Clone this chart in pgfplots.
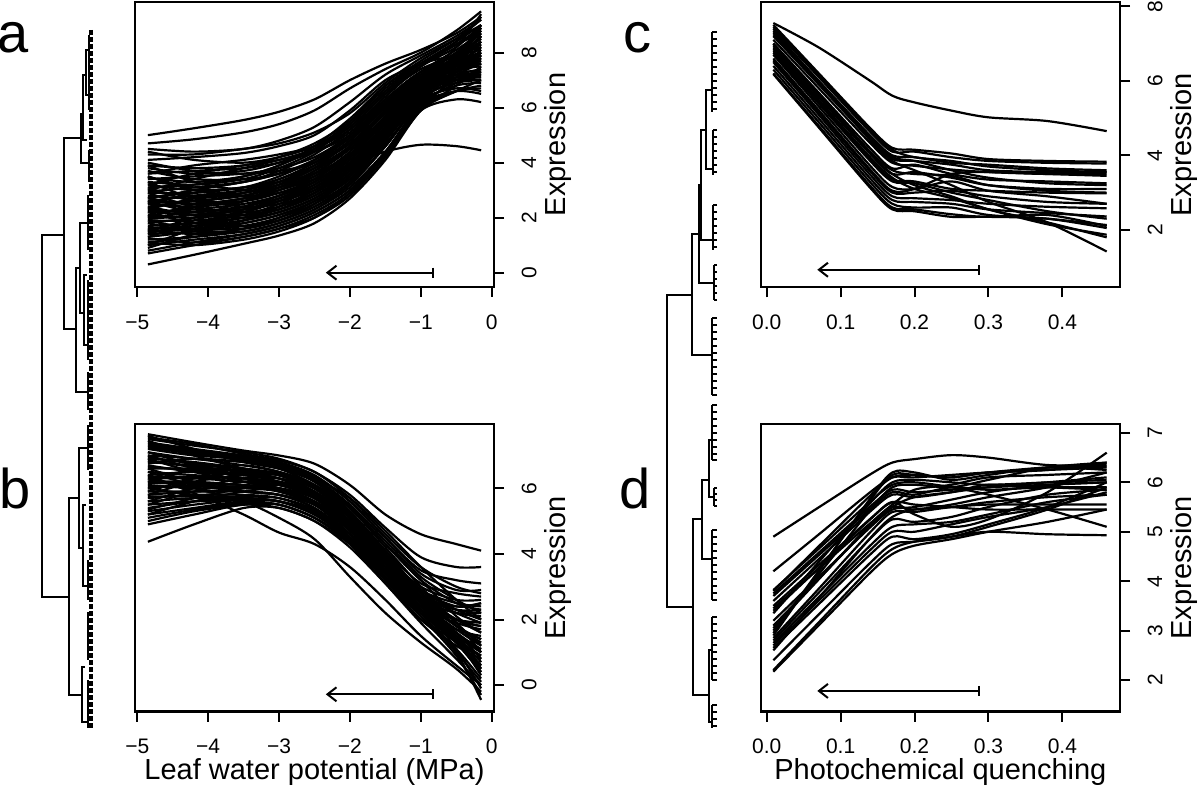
\documentclass[border=0pt]{standalone}
\usepackage{fontspec}
\setmainfont{Liberation Sans}
\usepackage{pgfplots}
\pgfplotsset{compat=1.18}
\usetikzlibrary{arrows.meta}

\newcommand\LA[5]{\def\LAone{(-4.85,#1)(-4.2,#2)(-3.5,#3)(-3.0,#4)(-2.5,#5)}\LAtwo}
\newcommand\LAtwo[5]{\edef\LAtmp{\noexpand\addplot[curve] coordinates{\LAone(-2.0,#1)(-1.5,#2)(-1.0,#3)(-0.5,#4)(-0.15,#5)};}\LAtmp}
\newcommand\LC[9]{\addplot[curve] coordinates{(0.009,#1)(0.07,#2)(0.14,#3)(0.17,#4)(0.2,#5)(0.25,#6)(0.3,#7)(0.38,#8)(0.46,#9)};}
\newcommand\mg[5]{\addplot[dend] coordinates {(#1,#2)(#3,#2)(#3,#5)(#4,#5)};}
\newcommand\comb[5]{\addplot[dend] coordinates {(#1,#3)(#1,#4)};\pgfplotsinvokeforeach{#5}{\addplot[dend] coordinates {(#2,##1)(#1,##1)};}}

\pgfplotsset{
 curve/.style={black, solid, line width=1.1pt, smooth, no markers},
 dend/.style={black, solid, line width=1pt, sharp plot, no markers},
 arr/.style={black, solid, line width=1pt, sharp plot, no markers, {Bar[width=5pt]}-{Straight Barb[length=4.5pt,width=7pt]}},
 panel/.style={scale only axis, anchor=south west, width=179.5pt,
   axis line style={line width=1.2pt},
   every tick/.style={black, line width=1pt},
   tick align=outside, major tick length=5pt,
   xtick pos=bottom, ytick pos=right, yticklabel pos=right,
   tick label style={font=\fontsize{10.5}{12}\selectfont, inner sep=0pt},
   yticklabel style={rotate=90, anchor=north},
   xticklabel style={anchor=north},
   xticklabel shift=8.6pt, yticklabel shift=8.6pt,
   clip=false,
 },
}

\begin{document}
\begin{tikzpicture}
\useasboundingbox (0,0) rectangle (600pt,404pt);
% ---------- overlay: dendrograms, letters, titles ----------
\begin{axis}[at={(0pt,0pt)}, anchor=south west, scale only axis, width=600pt, height=404pt,
  xmin=0, xmax=1200, ymin=0, ymax=808, y dir=reverse, hide axis, clip=false]
% left tree
\mg{64.3}{235}{42}{69}{597}
\mg{80.7}{138}{64.3}{75.7}{329}
\mg{83.3}{114}{80.7}{89.3}{163}
\mg{86}{75}{83.3}{87}{140}
\mg{88.5}{50}{86}{89}{95}
\mg{80}{268}{75.7}{88.3}{392}
\mg{88.3}{223}{80}{84.3}{313}
\mg{86.5}{275}{84.3}{87.5}{345}
\mg{79}{498}{69}{82.3}{695}
\mg{88.3}{448}{79}{83.3}{548}
\mg{86}{505}{83.3}{88}{586}
\mg{85}{667}{82.3}{88}{722}
\addplot[dend] coordinates {(88.5,35)(88.5,110)};
\addplot[dend] coordinates {(89.3,150)(89.3,182)};
\addplot[dend] coordinates {(88.3,195)(88.3,250)};
\addplot[dend] coordinates {(87.5,280)(87.5,360)};
\addplot[dend] coordinates {(88.3,372)(88.3,410)};
\addplot[dend] coordinates {(88.3,425)(88.3,470)};
\addplot[dend] coordinates {(88,560)(88,600)};
\addplot[dend] coordinates {(88,612)(88,660)};
\addplot[dend] coordinates {(88,680)(88,728)};
\addplot[dend, line width=2pt, dash pattern=on 2.5pt off 1pt] coordinates {(90.8,30)(90.8,728)};
% right tree
\mg{691.7}{295}{667.3}{693.3}{607}
\mg{699.3}{234}{691.7}{711.7}{355}
\mg{701.3}{185}{699.3}{714.3}{283}
\mg{705.7}{130}{701.3}{713.3}{240}
\mg{711.7}{90}{705.7}{713.3}{169}
\comb{711.7}{717}{32}{112}{32,39,46,53,60,67,74,81,88,95,102,109}
\comb{713.3}{717}{130}{175}{130,137,144,151,158,165,172}
\comb{713.3}{717}{205}{250}{205,212,219,226,233,240,247}
\comb{714.3}{717}{265}{300}{265,272,279,286,293,300}
\comb{711.7}{717}{318}{395}{318,325,332,339,346,353,360,367,374,381,388,395}
\mg{702.3}{519}{693.3}{709.3}{695}
\mg{709.3}{480}{702.3}{711.7}{559}
\mg{712}{440}{709.3}{714}{497}
\comb{712}{717}{405}{460}{405,412,419,426,433,440,447,454,460}
\comb{714}{717}{488}{506}{488,494,500,506}
\comb{711.7}{717}{530}{600}{530,537,544,551,558,565,572,579,586,593,600}
\mg{712}{650}{709.3}{712}{722}
\comb{712}{717}{617}{680}{617,624,631,638,645,652,659,666,673,680}
\comb{712}{717}{705}{728}{705,712,719,726}
% letters and titles
\node[font=\fontsize{28}{32}\selectfont, inner sep=0pt] at (axis cs:13,38) {a};
\node[font=\fontsize{28}{32}\selectfont, inner sep=0pt] at (axis cs:15,488) {b};
\node[font=\fontsize{28}{32}\selectfont, inner sep=0pt] at (axis cs:637,38) {c};
\node[font=\fontsize{28}{32}\selectfont, inner sep=0pt] at (axis cs:635,488) {d};
\node[font=\fontsize{14.5}{17}\selectfont, inner sep=0pt] at (axis cs:314.5,772) {Leaf water potential (MPa)};
\node[font=\fontsize{14.5}{17}\selectfont, inner sep=0pt] at (axis cs:940.4,772) {Photochemical quenching};
\end{axis}

% ---------- panel a ----------
\begin{axis}[panel, at={(67.5pt,260.5pt)}, height=142.5pt,
  xmin=-5.032, xmax=0.032, ymin=-0.52, ymax=9.84,
  xtick={-5,-4,-3,-2,-1,0}, xticklabels={−5,−4,−3,−2,−1,0},
  ytick={0,2,4,6,8}, yticklabels={0,2,4,6,8}]
\LA{5.0}{5.25}{5.55}{5.85}{6.3}{7.0}{7.6}{8.1}{8.7}{9.3}
\LA{4.7}{4.85}{5.1}{5.4}{5.9}{6.7}{7.4}{8.0}{8.8}{9.5}
\LA{4.5}{4.4}{4.5}{4.8}{5.3}{6.2}{7.2}{7.9}{8.6}{9.2}
\LA{4.3}{4.3}{4.5}{4.7}{5.1}{5.8}{6.9}{7.8}{8.5}{9.0}
\LA{4.1}{4.2}{4.35}{4.6}{5.0}{5.9}{7.0}{7.6}{7.9}{8.1}
\LA{3.9}{3.8}{3.9}{4.2}{4.7}{5.5}{6.7}{7.6}{8.4}{9.0}
\LA{3.8}{3.6}{3.7}{4.0}{4.5}{5.3}{6.5}{7.4}{7.9}{8.4}
\LA{3.6}{3.7}{3.8}{4.0}{4.4}{5.1}{6.3}{7.3}{7.6}{7.7}
\LA{3.5}{3.1}{3.3}{3.7}{4.3}{5.2}{6.4}{7.5}{8.3}{8.8}
\LA{3.4}{3.5}{3.6}{3.8}{4.2}{5.0}{6.2}{7.1}{7.6}{8.0}
\LA{3.3}{3.2}{3.4}{3.8}{4.4}{5.4}{6.6}{7.5}{8.2}{9.0}
\LA{3.2}{3.0}{3.1}{3.4}{4.0}{4.9}{6.0}{7.0}{7.3}{7.3}
\LA{3.1}{3.2}{3.5}{3.9}{4.6}{5.6}{6.8}{7.6}{8.4}{9.3}
\LA{3.0}{2.8}{2.9}{3.2}{3.8}{4.6}{5.8}{6.9}{7.2}{7.2}
\LA{2.9}{2.9}{3.1}{3.5}{4.1}{5.0}{6.2}{7.3}{8.1}{8.7}
\LA{2.8}{2.7}{2.9}{3.3}{3.9}{4.8}{6.0}{7.0}{7.5}{7.6}
\LA{2.7}{2.5}{2.7}{3.1}{3.7}{4.6}{5.9}{7.1}{8.0}{8.9}
\LA{2.6}{2.8}{3.0}{3.3}{3.8}{4.5}{5.6}{6.6}{7.0}{7.0}
\LA{2.5}{2.4}{2.6}{3.0}{3.6}{4.5}{5.8}{7.0}{7.8}{8.3}
\LA{2.4}{2.6}{2.8}{3.1}{3.5}{4.2}{5.2}{6.2}{6.6}{6.5}
\LA{2.3}{2.2}{2.4}{2.8}{3.4}{4.3}{5.6}{6.9}{7.9}{8.9}
\LA{2.2}{2.3}{2.5}{2.8}{3.3}{4.1}{5.3}{6.5}{7.1}{7.3}
\LA{2.1}{2.0}{2.2}{2.6}{3.2}{4.1}{5.4}{6.8}{7.7}{8.4}
\LA{2.0}{2.2}{2.4}{2.7}{3.1}{3.9}{5.1}{6.4}{6.9}{7.0}
\LA{1.9}{1.9}{2.1}{2.5}{3.1}{4.0}{5.3}{6.7}{7.6}{8.2}
\LA{1.8}{2.0}{2.3}{2.6}{3.0}{3.8}{5.0}{6.3}{6.7}{6.6}
\LA{1.7}{1.8}{2.0}{2.3}{2.9}{3.8}{5.1}{6.6}{7.7}{8.6}
\LA{1.6}{1.7}{1.9}{2.2}{2.7}{3.5}{4.8}{6.3}{7.0}{7.2}
\LA{1.5}{1.6}{1.9}{2.2}{2.7}{3.6}{5.0}{6.6}{7.6}{8.0}
\LA{1.4}{1.5}{1.7}{2.0}{2.5}{3.3}{4.6}{6.2}{6.8}{6.9}
\LA{1.3}{1.5}{1.8}{2.1}{2.6}{3.4}{4.8}{6.5}{7.8}{8.8}
\LA{1.2}{1.3}{1.5}{1.8}{2.3}{3.1}{4.4}{6.0}{6.6}{6.7}
\LA{1.1}{1.3}{1.6}{1.9}{2.4}{3.2}{4.6}{6.3}{7.4}{7.9}
\LA{1.0}{1.2}{1.4}{1.7}{2.2}{3.0}{4.3}{5.9}{6.3}{6.2}
\LA{0.8}{1.1}{1.4}{1.7}{2.2}{3.0}{4.4}{6.2}{7.3}{8.1}
\LA{0.7}{1.0}{1.3}{1.6}{2.0}{2.8}{4.2}{5.9}{6.8}{7.5}
\LA{0.3}{0.65}{1.05}{1.35}{1.8}{2.7}{4.1}{5.9}{6.6}{7.0}
\LA{2.6}{2.5}{2.7}{3.0}{3.4}{3.9}{4.4}{4.65}{4.6}{4.45}
\LA{3.45}{3.3}{3.5}{3.9}{4.5}{5.5}{6.8}{7.7}{8.5}{9.2}
\LA{2.95}{3.1}{3.3}{3.6}{4.0}{4.7}{5.8}{6.8}{7.2}{7.4}
\LA{2.55}{2.6}{2.8}{3.2}{3.8}{4.8}{6.1}{7.2}{8.0}{8.5}
\LA{2.25}{2.1}{2.3}{2.7}{3.3}{4.2}{5.5}{6.8}{7.4}{7.8}
\LA{1.95}{2.1}{2.3}{2.6}{3.1}{3.9}{5.2}{6.7}{7.8}{9.0}
\LA{1.65}{1.6}{1.8}{2.1}{2.6}{3.4}{4.7}{6.1}{6.6}{6.8}
\LA{1.45}{1.7}{2.0}{2.4}{2.9}{3.7}{5.0}{6.4}{7.2}{7.6}
\LA{1.25}{1.1}{1.3}{1.6}{2.1}{2.9}{4.3}{6.0}{7.1}{7.8}
\LA{3.7}{3.4}{3.4}{3.6}{4.1}{5.0}{6.2}{7.2}{7.8}{8.3}
\LA{4.0}{3.7}{3.6}{3.7}{4.0}{4.8}{6.0}{7.1}{7.4}{7.5}
\LA{2.05}{2.4}{2.7}{3.0}{3.5}{4.4}{5.7}{7.0}{8.2}{9.4}
\LA{2.75}{2.3}{2.3}{2.6}{3.1}{4.0}{5.2}{6.6}{7.3}{7.6}
\LA{3.9}{3.3}{3.0}{3.1}{3.6}{4.6}{5.9}{7.0}{7.6}{7.9}
\LA{1.0}{1.6}{2.2}{2.7}{3.2}{4.0}{5.2}{6.6}{7.5}{8.0}
\LA{3.3}{2.7}{2.4}{2.5}{2.9}{3.8}{5.2}{6.7}{7.7}{8.6}
\LA{1.5}{2.0}{2.6}{3.1}{3.7}{4.6}{5.9}{7.1}{7.7}{8.0}
\LA{2.2}{1.8}{1.7}{1.9}{2.4}{3.3}{4.8}{6.5}{7.5}{8.2}
\LA{0.9}{1.4}{1.9}{2.4}{3.0}{3.9}{5.3}{6.8}{7.9}{8.7}
\LA{3.0}{3.4}{3.8}{4.1}{4.5}{5.2}{6.3}{7.3}{7.9}{8.2}
\LA{2.4}{2.1}{2.0}{2.2}{2.7}{3.6}{5.0}{6.6}{7.3}{7.7}
\LA{1.8}{1.5}{1.5}{1.8}{2.3}{3.2}{4.6}{6.3}{7.0}{7.4}
\LA{3.6}{3.9}{4.1}{4.3}{4.6}{5.3}{6.5}{7.5}{8.3}{8.9}
\LA{2.7}{3.0}{3.3}{3.6}{4.1}{4.9}{6.1}{7.2}{7.7}{7.9}
\LA{1.3}{1.8}{2.1}{2.3}{2.8}{3.6}{4.9}{6.4}{7.3}{7.9}
\LA{2.9}{2.4}{2.2}{2.4}{2.9}{3.8}{5.2}{6.6}{7.1}{7.1}
\LA{2.0}{2.5}{2.9}{3.2}{3.6}{4.3}{5.5}{6.8}{7.5}{7.9}
\LA{1.6}{1.4}{1.6}{2.0}{2.6}{3.5}{4.9}{6.5}{7.6}{8.4}
\LA{3.2}{3.6}{3.9}{4.1}{4.4}{5.0}{6.1}{7.0}{7.4}{7.6}
\LA{1.1}{1.0}{1.2}{1.5}{2.0}{2.9}{4.3}{6.1}{6.9}{7.3}
\LA{2.5}{2.9}{3.1}{3.3}{3.6}{4.3}{5.5}{6.7}{7.1}{7.2}
\LA{3.5}{3.0}{2.8}{2.9}{3.3}{4.2}{5.5}{6.9}{7.8}{8.6}
\LA{2.3}{2.7}{3.0}{3.4}{3.9}{4.7}{5.9}{7.0}{7.4}{7.6}
\LA{1.9}{1.6}{1.6}{1.9}{2.5}{3.5}{5.0}{6.7}{7.4}{7.7}
\LA{4.4}{4.1}{4.0}{4.2}{4.6}{5.4}{6.6}{7.6}{8.3}{8.7}
\LA{3.1}{2.6}{2.6}{2.9}{3.4}{4.3}{5.6}{6.9}{7.6}{8.0}
\LA{1.4}{1.9}{2.4}{2.8}{3.3}{4.2}{5.5}{6.9}{7.9}{8.5}
\LA{2.6}{2.2}{2.1}{2.3}{2.8}{3.7}{5.1}{6.5}{7.0}{7.1}
\addplot[arr] coordinates {(-0.81,0)(-2.34,0)};
\node[rotate=90, font=\fontsize{14.5}{17}\selectfont] at ([xshift=32.1pt]rel axis cs:1,0.5) {Expression};
\end{axis}

% ---------- panel b ----------
\begin{axis}[panel, at={(67.5pt,48.15pt)}, height=143.85pt,
  xmin=-5.032, xmax=0.032, ymin=-0.81, ymax=7.96,
  xtick={-5,-4,-3,-2,-1,0}, xticklabels={−5,−4,−3,−2,−1,0},
  ytick={0,2,4,6}, yticklabels={0,2,4,6}]
\LA{7.65}{7.4}{7.15}{7.0}{6.75}{6.1}{5.2}{4.6}{4.3}{4.1}
\LA{7.5}{7.3}{7.1}{6.9}{6.5}{5.8}{4.8}{3.9}{3.6}{3.6}
\LA{7.4}{7.2}{7.0}{6.8}{6.4}{5.6}{4.5}{3.5}{3.2}{3.1}
\LA{7.3}{7.1}{6.9}{6.7}{6.3}{5.5}{4.4}{3.3}{2.6}{2.2}
\LA{7.2}{7.0}{6.9}{6.7}{6.2}{5.4}{4.2}{3.0}{1.9}{1.2}
\LA{7.1}{6.9}{6.8}{6.6}{6.1}{5.3}{4.1}{2.8}{1.5}{0.5}
\LA{7.0}{6.9}{6.7}{6.5}{6.1}{5.2}{4.0}{2.9}{2.3}{2.0}
\LA{6.9}{6.8}{6.6}{6.4}{6.0}{5.2}{4.1}{3.1}{2.8}{2.7}
\LA{6.8}{6.7}{6.6}{6.4}{5.9}{5.0}{3.8}{2.6}{1.4}{0.3}
\LA{6.7}{6.5}{6.4}{6.3}{5.9}{5.1}{3.9}{2.7}{2.0}{1.6}
\LA{6.6}{6.6}{6.5}{6.3}{5.8}{4.9}{3.7}{2.5}{1.1}{-0.1}
\LA{6.5}{6.4}{6.3}{6.2}{5.8}{5.0}{3.9}{2.9}{2.5}{2.4}
\LA{6.4}{6.5}{6.4}{6.2}{5.7}{4.8}{3.5}{2.3}{1.0}{-0.45}
\LA{6.3}{6.3}{6.2}{6.1}{5.7}{4.9}{3.8}{2.6}{1.8}{1.4}
\LA{6.2}{6.2}{6.1}{6.0}{5.6}{4.8}{3.6}{2.4}{1.3}{0.6}
\LA{6.1}{6.0}{6.0}{5.9}{5.5}{4.7}{3.6}{2.6}{2.2}{2.1}
\LA{6.0}{6.1}{6.1}{5.9}{5.5}{4.6}{3.4}{2.2}{1.0}{0.1}
\LA{5.9}{5.9}{5.9}{5.8}{5.4}{4.6}{3.5}{2.5}{1.7}{1.2}
\LA{5.8}{5.9}{5.9}{5.8}{5.4}{4.5}{3.3}{2.1}{0.9}{-0.3}
\LA{5.7}{5.8}{5.8}{5.7}{5.3}{4.5}{3.4}{2.4}{2.0}{1.9}
\LA{5.6}{5.7}{5.7}{5.6}{5.2}{4.4}{3.2}{2.0}{1.2}{0.8}
\LA{5.4}{5.6}{5.7}{5.6}{5.2}{4.5}{3.5}{2.7}{2.4}{2.5}
\LA{5.2}{5.4}{5.6}{5.5}{5.1}{4.3}{3.1}{1.9}{0.8}{0.0}
\LA{5.0}{5.3}{5.5}{5.5}{5.1}{4.4}{3.3}{2.3}{1.6}{1.0}
\LA{4.9}{5.2}{5.5}{5.4}{5.0}{4.2}{3.1}{2.0}{1.4}{1.3}
\LA{4.37}{4.9}{5.4}{5.4}{5.0}{4.3}{3.3}{2.4}{1.9}{1.7}
\LA{6.4}{5.85}{5.2}{4.65}{4.3}{3.6}{2.6}{1.5}{0.6}{0.0}
\LA{6.3}{6.0}{5.6}{5.1}{4.45}{3.3}{2.2}{1.3}{0.5}{-0.2}
\LA{7.55}{7.35}{7.05}{6.85}{6.5}{5.7}{4.6}{3.6}{3.0}{2.8}
\LA{7.25}{7.05}{6.85}{6.65}{6.25}{5.45}{4.3}{3.2}{2.1}{1.6}
\LA{6.95}{6.75}{6.6}{6.45}{6.05}{5.25}{4.0}{2.9}{1.9}{1.0}
\LA{6.65}{6.55}{6.45}{6.3}{5.85}{4.95}{3.75}{2.6}{1.6}{0.8}
\LA{6.35}{6.35}{6.3}{6.15}{5.75}{4.85}{3.6}{2.4}{1.5}{1.0}
\LA{6.05}{6.05}{6.05}{5.95}{5.55}{4.75}{3.6}{2.5}{1.3}{0.4}
\LA{5.75}{5.75}{5.75}{5.7}{5.35}{4.6}{3.5}{2.6}{2.2}{2.2}
\LA{5.5}{5.6}{5.65}{5.6}{5.25}{4.4}{3.25}{2.2}{1.3}{0.5}
\LA{5.1}{5.35}{5.55}{5.5}{5.1}{4.35}{3.2}{2.1}{1.1}{0.2}
\LA{7.35}{7.15}{6.95}{6.75}{6.35}{5.6}{4.5}{3.4}{2.9}{2.9}
\LA{6.85}{6.65}{6.55}{6.4}{6.0}{5.15}{3.95}{2.8}{2.3}{2.2}
\LA{6.15}{6.15}{6.1}{6.0}{5.6}{4.8}{3.7}{2.7}{2.3}{2.3}
\LA{5.3}{5.5}{5.65}{5.6}{5.2}{4.45}{3.4}{2.4}{1.7}{1.5}
\LA{7.6}{7.2}{6.8}{6.6}{6.3}{5.7}{4.7}{3.6}{2.6}{2.0}
\LA{5.9}{6.3}{6.5}{6.4}{6.0}{5.1}{3.8}{2.6}{1.5}{0.7}
\LA{6.2}{6.6}{6.7}{6.5}{6.1}{5.2}{3.9}{2.6}{1.6}{1.1}
\LA{7.0}{6.6}{6.2}{6.0}{5.7}{5.0}{3.9}{2.8}{2.0}{1.8}
\LA{5.5}{5.9}{6.2}{6.2}{5.9}{5.1}{3.9}{2.7}{1.8}{1.3}
\LA{6.6}{6.2}{5.9}{5.8}{5.5}{4.8}{3.7}{2.5}{1.4}{0.6}
\LA{5.2}{5.6}{5.9}{6.0}{5.7}{4.9}{3.7}{2.6}{2.0}{1.8}
\LA{7.1}{6.7}{6.3}{6.1}{5.8}{5.1}{4.0}{2.9}{2.4}{2.5}
\LA{5.8}{6.2}{6.4}{6.4}{6.0}{5.1}{3.8}{2.5}{1.3}{0.4}
\LA{6.9}{6.5}{6.2}{6.0}{5.6}{4.9}{3.9}{3.0}{2.6}{2.6}
\LA{6.5}{6.1}{5.9}{5.8}{5.5}{4.7}{3.5}{2.3}{1.3}{0.9}
\LA{5.6}{6.0}{6.3}{6.3}{6.0}{5.2}{4.0}{2.8}{2.2}{1.9}
\LA{7.45}{7.0}{6.6}{6.4}{6.1}{5.4}{4.3}{3.2}{2.5}{2.3}
\LA{6.0}{5.8}{5.7}{5.6}{5.3}{4.6}{3.4}{2.3}{1.4}{0.9}
\LA{6.75}{6.9}{6.8}{6.6}{6.2}{5.3}{4.0}{2.8}{1.8}{1.4}
\LA{5.35}{5.7}{6.0}{6.1}{5.8}{5.0}{3.8}{2.5}{1.5}{1.1}
\addplot[arr] coordinates {(-0.81,-0.28)(-2.34,-0.28)};
\node[rotate=90, font=\fontsize{14.5}{17}\selectfont] at ([xshift=32.1pt]rel axis cs:1,0.5) {Expression};
\end{axis}

% ---------- panel c ----------
\begin{axis}[panel, at={(380.35pt,260.35pt)}, width=179.65pt, height=142.65pt,
  xmin=-0.0081, xmax=0.478, ymin=0.46, ymax=8.115,
  xtick={0,0.1,0.2,0.3,0.4}, xticklabels={0.0,0.1,0.2,0.3,0.4},
  ytick={2,4,6,8}, yticklabels={2,4,6,8}]
\LC{7.55}{6.9}{6.0}{5.6}{5.42}{5.2}{5.02}{4.92}{4.65}
\LC{7.5}{6.21}{4.73}{4.2}{4.15}{4.05}{3.9}{3.85}{3.83}
\LC{7.4}{6.11}{4.63}{4.1}{4.1}{3.95}{3.85}{3.8}{3.78}
\LC{7.3}{6.01}{4.53}{4.0}{3.95}{3.8}{3.75}{3.65}{3.6}
\LC{7.2}{5.91}{4.43}{3.9}{3.85}{3.75}{3.6}{3.55}{3.55}
\LC{7.1}{5.81}{4.33}{3.8}{3.72}{3.62}{3.55}{3.5}{3.5}
\LC{7.0}{5.69}{4.19}{3.65}{3.75}{3.5}{3.35}{3.3}{3.25}
\LC{6.9}{5.57}{4.04}{3.5}{3.55}{3.4}{3.2}{3.1}{3.1}
\LC{6.8}{5.45}{3.9}{3.35}{3.3}{3.1}{3.05}{3.0}{2.98}
\LC{6.7}{5.32}{3.72}{3.15}{3.1}{3.3}{3.05}{2.9}{2.7}
\LC{6.6}{5.22}{3.62}{3.05}{3.1}{3.5}{3.55}{3.5}{3.45}
\LC{6.5}{5.1}{3.48}{2.9}{2.85}{2.8}{2.7}{2.62}{2.58}
\LC{6.4}{5.0}{3.38}{2.8}{2.75}{2.7}{2.55}{2.45}{2.36}
\LC{6.3}{4.9}{3.28}{2.7}{2.6}{2.6}{2.4}{2.3}{2.13}
\LC{6.2}{4.8}{3.18}{2.6}{2.55}{2.42}{2.35}{2.4}{2.1}
\LC{6.18}{4.76}{3.13}{2.55}{2.5}{2.35}{2.35}{2.3}{2.05}
\LC{7.35}{5.99}{4.41}{3.85}{3.6}{3.2}{2.75}{2.2}{1.42}
\LC{7.0}{5.63}{4.06}{3.5}{3.2}{2.9}{2.55}{2.2}{1.8}
\LC{6.85}{5.5}{3.95}{3.4}{3.1}{2.85}{2.55}{2.15}{1.87}
\LC{7.25}{5.96}{4.48}{3.95}{3.85}{3.6}{3.4}{3.25}{3.2}
\LC{6.95}{5.64}{4.1}{3.6}{3.5}{3.45}{3.2}{3.05}{3.0}
\LC{6.55}{5.17}{3.57}{3.0}{3.0}{3.05}{2.9}{2.75}{2.7}
\LC{7.45}{6.16}{4.68}{4.15}{3.95}{3.85}{3.7}{3.6}{3.55}
\LC{6.75}{5.4}{3.85}{3.3}{3.25}{3.0}{2.8}{2.5}{2.3}
\addplot[arr] coordinates {(0.289,0.93)(0.0685,0.93)};
\node[rotate=90, font=\fontsize{14.5}{17}\selectfont] at ([xshift=32.1pt]rel axis cs:1,0.5) {Expression};
\end{axis}

% ---------- panel d ----------
\begin{axis}[panel, at={(380.35pt,48.15pt)}, width=179.65pt, height=143.85pt,
  xmin=-0.0081, xmax=0.478, ymin=1.36, ymax=7.18,
  xtick={0,0.1,0.2,0.3,0.4}, xticklabels={0.0,0.1,0.2,0.3,0.4},
  ytick={2,3,4,5,6,7}, yticklabels={2,3,4,5,6,7}]
\LC{4.9}{5.49}{6.16}{6.4}{6.47}{6.55}{6.5}{6.35}{6.35}
\LC{4.2}{4.94}{5.8}{6.1}{6.1}{6.15}{6.2}{6.25}{6.4}
\LC{3.82}{4.65}{5.61}{5.95}{6.0}{5.9}{5.75}{5.45}{5.1}
\LC{3.75}{4.57}{5.51}{5.85}{5.8}{5.85}{5.9}{5.95}{6.0}
\LC{3.7}{4.52}{5.46}{5.8}{5.75}{5.9}{5.85}{5.9}{5.9}
\LC{3.6}{4.44}{5.41}{5.75}{5.7}{5.8}{5.95}{5.9}{5.85}
\LC{3.5}{4.32}{5.26}{5.6}{5.55}{5.5}{5.45}{5.45}{5.45}
\LC{3.45}{4.25}{5.17}{5.5}{5.45}{5.55}{5.7}{5.9}{6.2}
\LC{3.2}{4.08}{5.09}{5.45}{5.5}{5.65}{5.8}{5.95}{6.0}
\LC{3.1}{4.04}{5.12}{5.5}{5.7}{5.8}{5.9}{6.0}{6.1}
\LC{3.05}{4.03}{5.15}{5.55}{5.85}{5.95}{6.1}{6.15}{6.2}
\LC{2.95}{4.2}{5.64}{6.15}{6.15}{6.1}{6.2}{6.3}{6.32}
\LC{2.9}{4.19}{5.67}{6.2}{6.2}{6.05}{6.15}{6.3}{6.25}
\LC{2.85}{3.84}{4.99}{5.4}{5.4}{5.5}{5.55}{5.55}{5.55}
\LC{2.8}{3.76}{4.86}{5.25}{5.2}{5.3}{5.5}{5.75}{5.85}
\LC{2.75}{3.67}{4.72}{5.1}{5.15}{5.2}{5.35}{5.6}{5.75}
\LC{2.7}{3.6}{4.63}{5.0}{5.0}{5.15}{5.3}{5.5}{5.8}
\LC{2.65}{3.53}{4.54}{4.9}{4.85}{4.95}{5.15}{5.5}{6.0}
\LC{2.4}{3.32}{4.37}{4.75}{4.8}{4.9}{5.1}{5.45}{5.9}
\LC{2.2}{3.16}{4.26}{4.65}{4.8}{4.9}{5.0}{4.95}{4.93}
\LC{2.17}{3.1}{4.17}{4.55}{4.72}{4.85}{5.0}{5.2}{5.45}
\LC{3.4}{4.26}{5.25}{5.6}{5.35}{5.1}{5.25}{5.8}{6.6}
\LC{3.0}{4.13}{5.44}{5.9}{5.95}{5.9}{6.05}{6.3}{6.4}
\LC{3.35}{4.38}{5.58}{6.0}{6.05}{6.0}{5.95}{6.0}{6.05}
\LC{2.6}{3.65}{4.87}{5.3}{5.45}{5.5}{5.6}{5.7}{5.75}
\LC{3.8}{4.7}{5.73}{6.1}{6.15}{6.1}{6.2}{6.25}{6.3}
\addplot[arr] coordinates {(0.289,1.78)(0.0685,1.78)};
\node[rotate=90, font=\fontsize{14.5}{17}\selectfont] at ([xshift=32.1pt]rel axis cs:1,0.5) {Expression};
\end{axis}
\end{tikzpicture}
\end{document}
